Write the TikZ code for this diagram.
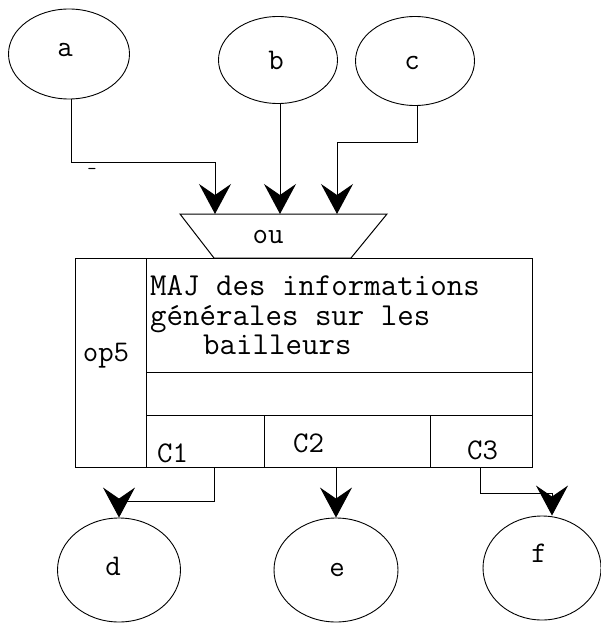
\documentclass[tikz,border=0pt]{standalone}
\usepackage{fontspec}
\usetikzlibrary{arrows.meta,shapes.geometric}
\begin{document}
\begin{tikzpicture}[x=1pt,y=-1pt,
  ell/.style={draw, ellipse, line width=0.9pt, inner sep=0pt},
  lbl/.style={font=\ttfamily\fontsize{30}{32}\selectfont, inner sep=0pt, anchor=base},
  ttl/.style={font=\ttfamily\fontsize{32}{34}\selectfont, inner sep=0pt, anchor=base west},
  conn/.style={line width=1pt, -{Stealth[length=30pt,width=32pt,inset=11pt]}},
  frame/.style={line width=1pt}]
\useasboundingbox (0,0) rectangle (601,623);
% input ellipses
\node[ell, minimum width=121pt, minimum height=90pt] (a) at (69,54) {};
\node[lbl] (la) at (65,57) {a};
\node[ell, minimum width=119pt, minimum height=87pt] (b) at (278,60) {};
\node[lbl] (lb) at (276,70) {b};
\node[ell, minimum width=119pt, minimum height=89pt] (c) at (415,61) {};
\node[lbl] (lc) at (412,70) {c};
% output ellipses
\node[ell, minimum width=123pt, minimum height=104pt] (d) at (119,570) {};
\node[lbl] (ld) at (113,575) {d};
\node[ell, minimum width=124pt, minimum height=104pt] (e) at (336,570) {};
\node[lbl] (le) at (337,576) {e};
\node[ell, minimum width=118pt, minimum height=104pt] (f) at (542,568) {};
\node[lbl] (lf) at (539,562) {f};
% trapezoid "ou"
\draw[frame] (180,214) -- (387,214) -- (351,258) -- (214,258) -- cycle;
\node[lbl] (ou) at (268,243) {ou};
\coordinate (ta) at (215,214);
\coordinate (tb) at (280,214);
\coordinate (tc) at (337,214);
% input connectors
\draw[conn] ([xshift=2pt]a.south) -- ++(0,63) -| (ta);
\draw[conn] ([xshift=2pt]b.south) -- (tb);
\draw[conn] ([xshift=2pt]c.south) -- ++(0,37) -| (tc);
\node[font=\ttfamily\fontsize{18}{18}\selectfont, inner sep=0pt] (dash) at (92,171) {-};
% main box
\draw[frame] (75,258) rectangle (532,467);
\draw[frame] (146,258) -- (146,467);
\draw[frame] (146,372) -- (532,372);
\draw[frame] (146,415) -- (532,415);
\draw[frame] (264,415) -- (264,467);
\draw[frame] (430,415) -- (430,467);
\node[ttl] (t1) at (150,295) {MAJ des informations};
\node[ttl] (t2) at (150,325) {générales sur les};
\node[ttl] (t3) at (203,354) {bailleurs};
\node[lbl] (op) at (106,361) {op5};
\node[lbl, anchor=base west] (c1) at (157,462) {C1};
\node[lbl, anchor=base west] (c2) at (293,452) {C2};
\node[lbl, anchor=base west] (c3) at (467,459) {C3};
% output connectors
\coordinate (o1) at (214,467);
\coordinate (o2) at (336,467);
\coordinate (o3) at (480,467);
\draw[conn] (o1) -- ++(0,34) -| (d.north);
\draw[conn] (o2) -- (e.north);
\draw[conn] (o3) -- ++(0,26) -| ([xshift=10pt]f.north);
\end{tikzpicture}
\end{document}
